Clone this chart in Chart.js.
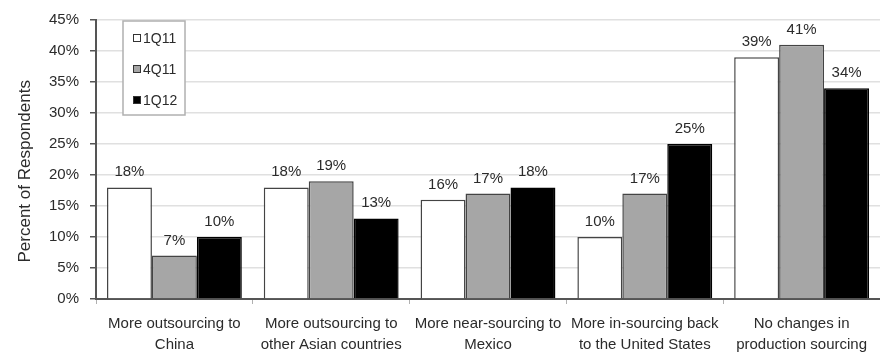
<!DOCTYPE html>
<html>
<head>
<meta charset="utf-8">
<script src="https://cdn.jsdelivr.net/npm/chart.js@4.4.1/dist/chart.umd.min.js"></script>
<style>
  html, body { margin: 0; padding: 0; background: #fff; }
  canvas { display: block; }
</style>
</head>
<body>
<canvas id="sourcingChart" width="880" height="360"></canvas>
<script>
var categories = [
  ["More outsourcing to", "China"],
  ["More outsourcing to", "other Asian countries"],
  ["More near-sourcing to", "Mexico"],
  ["More in-sourcing back", "to the United States"],
  ["No changes in", "production sourcing"]
];
var seriesNames = ["1Q11", "4Q11", "1Q12"];
var q1_2011 = [18, 18, 16, 10, 39];
var q4_2011 = [7, 19, 17, 17, 41];
var q1_2012 = [10, 13, 18, 25, 34];
var yTicks = [0, 5, 10, 15, 20, 25, 30, 35, 40, 45];

var FONT = "'Liberation Sans', Arial, sans-serif";
var TEXT = "#2b2b2b";

// percentage printed above every bar
var valueLabels = {
  id: "valueLabels",
  afterDatasetsDraw: function (chart) {
    var ctx = chart.ctx;
    ctx.save();
    ctx.font = "15px " + FONT;
    ctx.fillStyle = TEXT;
    ctx.textAlign = "center";
    ctx.textBaseline = "alphabetic";
    chart.data.datasets.forEach(function (ds, i) {
      chart.getDatasetMeta(i).data.forEach(function (bar, j) {
        ctx.fillText(ds.data[j] + "%", bar.x, bar.y - 11);
      });
    });
    ctx.restore();
  }
};

// boxed legend in the upper left of the plot
var boxLegend = {
  id: "boxLegend",
  afterDraw: function (chart) {
    var ctx = chart.ctx;
    var area = chart.chartArea;
    var x = area.left + 27, y = area.top + 1, w = 62, h = 94;
    ctx.save();
    ctx.fillStyle = "#fff";
    ctx.fillRect(x, y, w, h);
    ctx.strokeStyle = "#b0b0b0";
    ctx.lineWidth = 1.5;
    ctx.strokeRect(x, y, w, h);
    ctx.font = "14px " + FONT;
    ctx.textBaseline = "middle";
    chart.data.datasets.forEach(function (ds, i) {
      var cy = y + 17 + i * 31;
      ctx.fillStyle = ds.backgroundColor;
      ctx.fillRect(x + 10, cy - 4, 8, 8);
      ctx.strokeStyle = "#333";
      ctx.lineWidth = 1;
      ctx.strokeRect(x + 10.5, cy - 3.5, 7, 7);
      ctx.fillStyle = TEXT;
      ctx.fillText(ds.label, x + 20, cy + 1);
    });
    ctx.restore();
  }
};

var ctx = document.getElementById("sourcingChart").getContext("2d");
var sourcingChart = new Chart(ctx, {
  type: "bar",
  data: {
    labels: categories,
    datasets: [
      { label: seriesNames[0], data: q1_2011, backgroundColor: "#ffffff", borderColor: "#444", borderWidth: 1.5 },
      { label: seriesNames[1], data: q4_2011, backgroundColor: "#a6a6a6", borderColor: "#444", borderWidth: 1.5 },
      { label: seriesNames[2], data: q1_2012, backgroundColor: "#000000", borderColor: "#000", borderWidth: 1.5 }
    ]
  },
  options: {
    responsive: false,
    animation: false,
    layout: { padding: { top: 15, left: 0, right: 0, bottom: 0 } },
    categoryPercentage: 0.86,
    barPercentage: 1.0,
    plugins: {
      legend: { display: false },
      tooltip: { enabled: false }
    },
    scales: {
      x: {
        grid: { drawOnChartArea: false, drawTicks: true, tickLength: 5, tickColor: "#b0b0b0", offset: true },
        border: { color: "#555", width: 2 },
        ticks: { color: TEXT, font: { family: FONT, size: 15, lineHeight: 1.4 }, padding: 9, maxRotation: 0, autoSkip: false },
        afterFit: function (scale) { scale.height = 61; }
      },
      y: {
        min: 0,
        max: 45,
        afterBuildTicks: function (scale) {
          scale.ticks = yTicks.map(function (v) { return { value: v }; });
        },
        grid: { color: "#e0e0e0", lineWidth: 1.5, tickColor: "#555", tickLength: 6 },
        border: { color: "#555", width: 2 },
        ticks: {
          color: TEXT,
          font: { family: FONT, size: 15 },
          padding: 11,
          callback: function (v) { return v + "%"; }
        },
        title: {
          display: true,
          // trailing spaces nudge the rotated title a little lower
          text: "Percent of Respondents     ",
          color: TEXT,
          font: { family: FONT, size: 17 },
          padding: { top: 15, bottom: 0 }
        },
        afterFit: function (scale) { scale.width = 96; }
      }
    }
  },
  plugins: [valueLabels, boxLegend]
});
</script>
</body>
</html>
